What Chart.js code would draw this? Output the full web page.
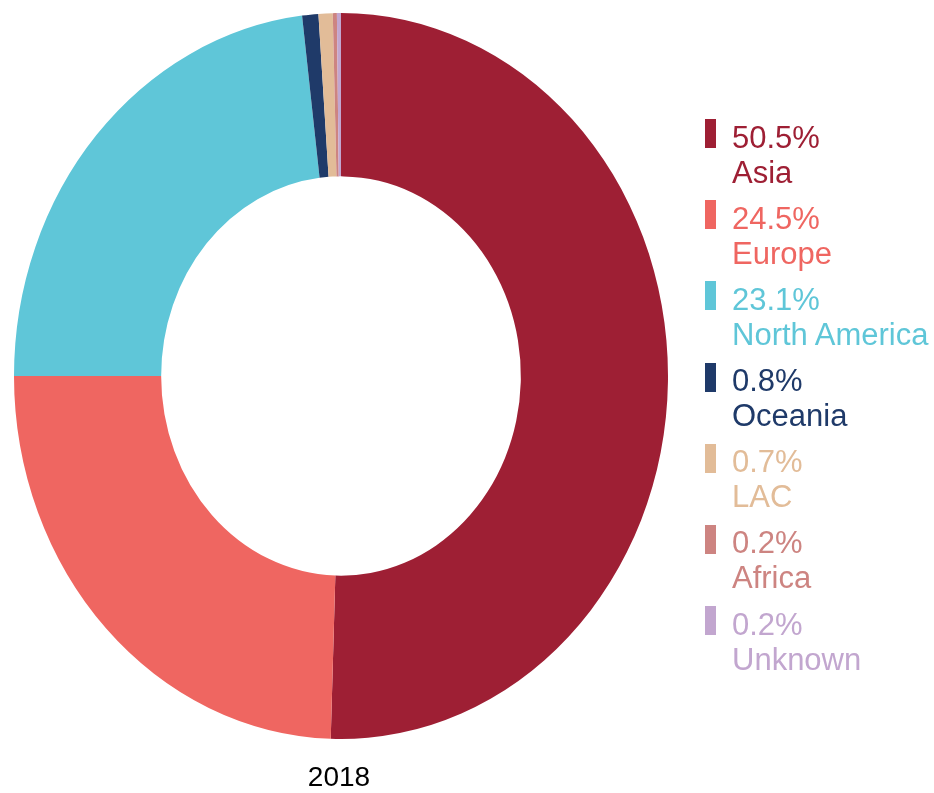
<!DOCTYPE html>
<html>
<head>
<meta charset="utf-8">
<script src="https://cdn.jsdelivr.net/npm/chart.js@4.4.1/dist/chart.umd.min.js"></script>
<style>
    body { margin: 0; background: #ffffff; font-family: "Liberation Sans", Arial, sans-serif; }
    #cadre { position: relative; width: 934px; height: 793px; }
    #legende { position: absolute; left: 705px; top: 119px; }
    .item { position: relative; height: 81.2px; }
    .carre { position: absolute; left: 0; top: 0; width: 11px; height: 29px; }
    .texte { position: absolute; left: 27px; top: 0.5px; font-size: 31px; line-height: 35px; white-space: nowrap; }
    #annee { position: absolute; left: 239px; width: 200px; top: 763px; text-align: center; font-size: 28px; line-height: 28px; color: #000000; }
</style>
</head>
<body>
<div id="cadre">
    <canvas id="donutCanvas"></canvas>
    <div id="legende"></div>
    <div id="annee"></div>
</div>
<script>
// donnees
let Regions = ["Asia", "Europe", "North America", "Oceania", "LAC", "Africa", "Unknown"]
let Parts = [50.5, 24.5, 23.1, 0.8, 0.7, 0.2, 0.2]
let Couleurs = ["#9e1f34", "#ef6661", "#5fc6d8", "#1f3a69", "#e2bc98", "#cd8481", "#c2a6cf"]
let Annee = "2018"

// le donut de la reference est un peu ovale (plus haut que large)
let EtirementVertical = 1.11

const ovale = {
    id: "ovale",
    beforeDatasetsDraw(chart) {
        let ctx = chart.ctx
        let area = chart.chartArea
        let cx = (area.left + area.right) / 2
        let cy = (area.top + area.bottom) / 2
        ctx.save()
        ctx.translate(cx, cy)
        ctx.scale(1, EtirementVertical)
        ctx.translate(-cx, -cy)
    },
    afterDatasetsDraw(chart) {
        chart.ctx.restore()
    }
}

function Initialisation() {
    let cadre = document.getElementById("cadre")
    cadre.style.width = "934px"

    // legende a droite, deux lignes par region
    let legende = document.getElementById("legende")
    Regions.forEach((region, i) => {
        let item = document.createElement("div")
        item.className = "item"
        let carre = document.createElement("div")
        carre.className = "carre"
        carre.style.background = Couleurs[i]
        let texte = document.createElement("div")
        texte.className = "texte"
        texte.style.color = Couleurs[i]
        texte.innerHTML = Parts[i].toFixed(1) + "%<br>" + region
        item.appendChild(carre)
        item.appendChild(texte)
        legende.appendChild(item)
    })

    document.getElementById("annee").textContent = Annee

    const donutCanvas = document.getElementById("donutCanvas")
    const donutChart = new Chart(donutCanvas, {
        type: "doughnut",
        data: {
            labels: Regions,
            datasets: [{
                data: Parts,
                backgroundColor: Couleurs,
                borderWidth: 0
            }]
        },
        options: {
            responsive: true,
            maintainAspectRatio: false,
            animation: false,
            cutout: "55%",
            layout: {
                padding: { left: 14, top: 49, right: 266, bottom: 90 }
            },
            plugins: {
                legend: { display: false }, // legende faite en html
                tooltip: { enabled: false }
            }
        },
        plugins: [ovale]
    })
}

window.addEventListener("DOMContentLoaded", () => {
    document.getElementById("donutCanvas").parentNode.style.height = "793px"
    Initialisation()
})
</script>
</body>
</html>
